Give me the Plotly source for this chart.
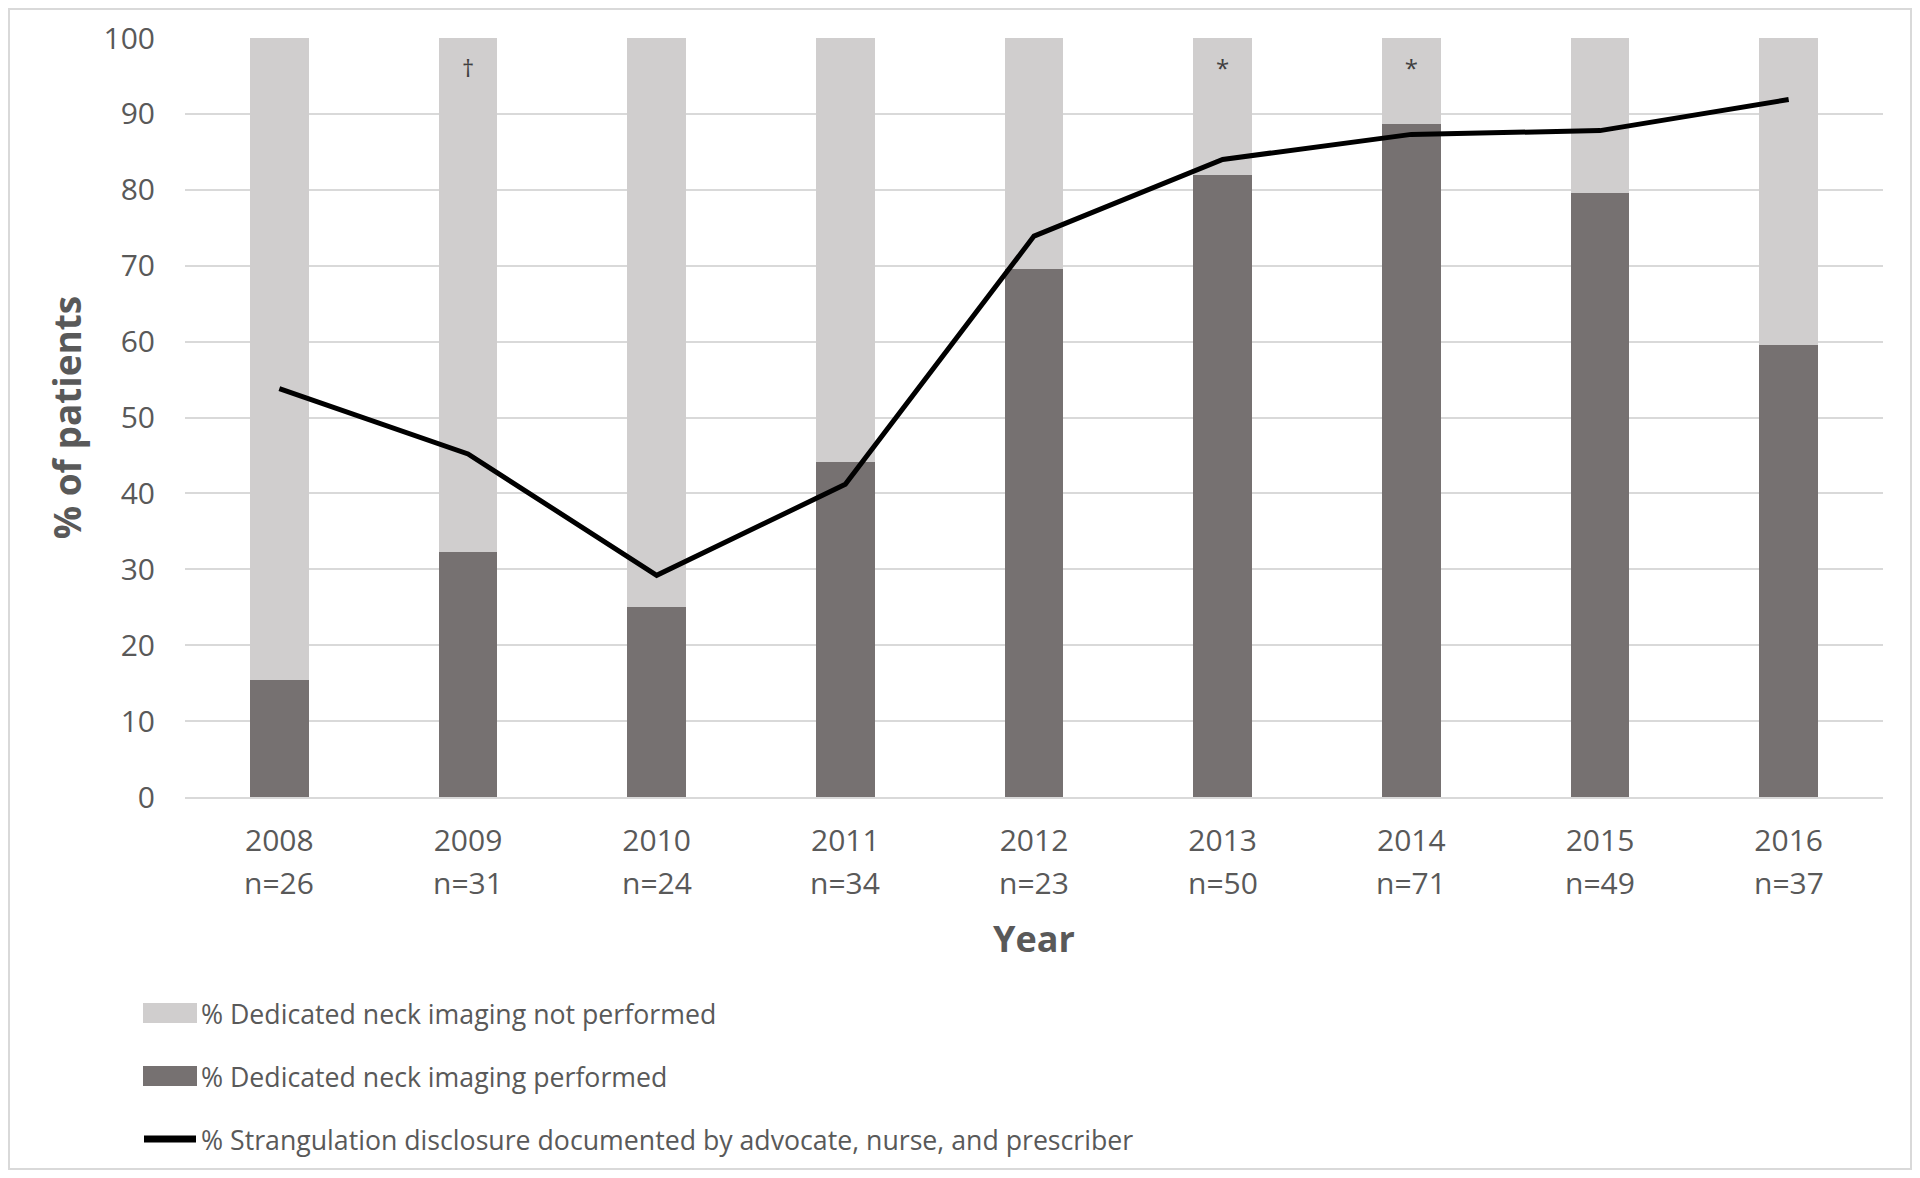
import plotly.graph_objects as go

years = ["2008", "2009", "2010", "2011", "2012", "2013", "2014", "2015", "2016"]
n_counts = [26, 31, 24, 34, 23, 50, 71, 49, 37]
imaging_performed = [15.4, 32.3, 25.0, 44.1, 69.6, 82.0, 88.7, 79.6, 59.5]
imaging_not_performed = [84.6, 67.7, 75.0, 55.9, 30.4, 18.0, 11.3, 20.4, 40.5]
disclosure_documented = [53.8, 45.2, 29.2, 41.2, 73.9, 84.0, 87.3, 87.8, 91.9]
significance_marks = ["", "†", "", "", "", "*", "*", "", ""]
y_ticks = [0, 10, 20, 30, 40, 50, 60, 70, 80, 90, 100]

name_not = "% Dedicated neck imaging not performed"
name_perf = "% Dedicated neck imaging performed"
name_line = "% Strangulation disclosure documented by advocate, nurse, and prescriber"

LIGHT = "#d0cece"
DARK = "#767171"
TXT = "#595959"
FONT = "Open Sans"

OFF = 8  # page body margin
W, H = 1920 - 2 * OFF, 1178 - 2 * OFF
# plot area in screen pixels
SL, SR, ST, SB = 185, 1883, 38, 797
L, R, T, B = SL - OFF, SR - OFF, ST - OFF, SB - OFF
MARK_Y = 95.7

def px(sx):
    return (sx - OFF - L) / (R - L)

def py(sy):
    return (B - (sy - OFF)) / (B - T)

fig = go.Figure()
fig.add_trace(go.Bar(x=years, y=imaging_performed, name=name_perf,
                     marker=dict(color=DARK, line=dict(width=0)), showlegend=False))
fig.add_trace(go.Bar(x=years, y=imaging_not_performed, name=name_not,
                     marker=dict(color=LIGHT, line=dict(width=0)), showlegend=False))
fig.add_trace(go.Scatter(x=years, y=disclosure_documented, name=name_line, mode="lines",
                         line=dict(color="black", width=5), showlegend=False))
fig.add_trace(go.Scatter(x=years, y=[MARK_Y] * len(years), text=significance_marks,
                         mode="text", textposition="middle center",
                         textfont=dict(family=FONT, size=24, color="#404040"),
                         showlegend=False, hoverinfo="skip"))

# sample-size labels under the year ticks
for i, n in enumerate(n_counts):
    fig.add_annotation(xref="x", yref="paper", x=i, y=py(882), text=f"n={n}",
                       showarrow=False, xanchor="center", yanchor="middle",
                       font=dict(family=FONT, size=30, color=TXT))

# x-axis title
fig.add_annotation(xref="paper", yref="paper", x=0.5, y=py(938), text="<b>Year</b>",
                   showarrow=False, xanchor="center", yanchor="middle",
                   font=dict(family=FONT, size=36, color=TXT))

# outer border
fig.add_shape(type="rect", xref="paper", yref="paper",
              x0=px(OFF + 1), x1=px(1920 - OFF - 1), y0=py(1178 - OFF - 1), y1=py(OFF + 1),
              line=dict(color="#d9d9d9", width=2), fillcolor="rgba(0,0,0,0)", layer="below")

# manual legend
legend_items = [(name_not, "bar", LIGHT, 1013), (name_perf, "bar", DARK, 1076), (name_line, "line", "black", 1139)]
for label, kind, col, yc in legend_items:
    if kind == "bar":
        fig.add_shape(type="rect", xref="paper", yref="paper",
                      x0=px(143), x1=px(197), y0=py(yc + 10), y1=py(yc - 10),
                      line=dict(width=0), fillcolor=col)
    else:
        fig.add_shape(type="line", xref="paper", yref="paper",
                      x0=px(144), x1=px(196), y0=py(yc), y1=py(yc),
                      line=dict(color=col, width=7))
    fig.add_annotation(xref="paper", yref="paper", x=px(199), y=py(yc), text=label,
                       showarrow=False, xanchor="left", yanchor="middle",
                       font=dict(family=FONT, size=26.7, color=TXT))

fig.update_layout(
    width=W, height=H,
    margin=dict(l=L, r=W - R, t=T, b=H - B, pad=0),
    barmode="stack", bargap=0.69,
    plot_bgcolor="white", paper_bgcolor="white",
    font=dict(family=FONT, color=TXT),
    xaxis=dict(
        type="category", automargin=False, range=[-0.5, len(years) - 0.5],
        tickmode="array", tickvals=years, ticktext=years,
        tickfont=dict(family=FONT, size=30, color=TXT),
        ticks="outside", ticklen=16, tickcolor="rgba(0,0,0,0)",
        showgrid=False, showline=True, linecolor="#d9d9d9", linewidth=2,
    ),
    yaxis=dict(
        range=[0, 100], tickmode="array", tickvals=y_ticks, automargin=False,
        tickfont=dict(family=FONT, size=30, color=TXT),
        ticks="outside", ticklen=23, tickcolor="rgba(0,0,0,0)",
        showgrid=True, gridcolor="#d9d9d9", gridwidth=2,
        zeroline=False, showline=False,
        title=dict(text="<b>% of patients</b>", font=dict(family=FONT, size=37, color=TXT), standoff=10),
    ),
)

fig.write_html("out.html")
